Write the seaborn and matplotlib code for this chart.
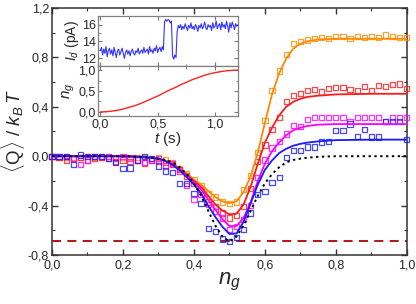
import numpy as np
import pandas as pd
import matplotlib
matplotlib.use("Agg")
import matplotlib.pyplot as plt
import seaborn as sns
from matplotlib.ticker import MultipleLocator, FuncFormatter

sns.set_style("ticks")
plt.rcParams['font.family'] = ['Liberation Sans', 'DejaVu Sans']
plt.rcParams['mathtext.fontset'] = 'custom'
plt.rcParams['mathtext.rm'] = 'Liberation Sans'
plt.rcParams['mathtext.it'] = 'Liberation Sans:italic'

# --- dữ liệu chính: <Q>/kT theo n_g ---
ng_pts = np.round(np.arange(0, 1.001, 0.02), 2)

q_orange = [0.00, -0.01, -0.01, -0.01, -0.01, 0.00, -0.01, -0.01, 0.00, -0.01,
            -0.01, -0.01, -0.01, -0.01, -0.02, -0.01, -0.03, -0.05, -0.10, -0.14,
            -0.19, -0.24, -0.30, -0.33, -0.37, -0.385, -0.37, -0.27, -0.155, 0.03,
            0.29, 0.53, 0.69, 0.82, 0.91, 0.93, 0.94, 0.95, 0.96, 0.95,
            0.97, 0.97, 0.95, 0.97, 0.96, 0.97, 0.96, 0.98, 0.97, 0.96, 0.96]
q_red = [0.00, -0.01, -0.035, -0.02, -0.01, -0.03, -0.02, -0.01, -0.02, -0.045,
         -0.03, -0.04, -0.03, -0.055, -0.03, -0.04, -0.05, -0.07, -0.11, -0.16,
         -0.22, -0.27, -0.37, -0.41, -0.46, -0.50, -0.48, -0.41, -0.26, -0.04,
         0.09, 0.215, 0.315, 0.445, 0.49, 0.51, 0.53, 0.54, 0.52, 0.547,
         0.553, 0.553, 0.54, 0.53, 0.566, 0.53, 0.574, 0.566, 0.58, 0.585, 0.547]
q_magenta = [0.00, 0.00, 0.00, -0.02, -0.07, -0.03, 0.00, 0.00, 0.00, -0.02,
             0.00, -0.02, -0.03, -0.05, -0.03, -0.02, -0.08, -0.06, -0.12, -0.24,
             -0.35, -0.31, -0.39, -0.45, -0.50, -0.59, -0.57, -0.515, -0.40, -0.175,
             -0.03, 0.066, 0.12, 0.18, 0.25, 0.24, 0.30, 0.31, 0.31, 0.31,
             0.31, 0.31, 0.28, 0.31, 0.31, 0.31, 0.31, 0.28, 0.31, 0.31, 0.31]
q_blue = [0.00, 0.00, 0.00, -0.065, 0.01, 0.00, 0.00, 0.00, -0.02, -0.05,
          -0.10, -0.095, -0.03, 0.00, -0.02, -0.08, -0.12, -0.13, -0.22, -0.22,
          -0.30, -0.38, -0.587, -0.61, -0.67, -0.69, -0.66, -0.596, -0.46, -0.31,
          -0.285, -0.21, -0.17, -0.01, 0.045, 0.045, 0.075, 0.075, 0.115, 0.12,
          0.21, 0.21, 0.26, 0.16, 0.215, 0.155, 0.155, 0.28, 0.28, 0.28, 0.134]

# đường lý thuyết
ng_fit = [0.0, 0.1, 0.2, 0.25, 0.3, 0.32, 0.34, 0.36, 0.38, 0.4, 0.42, 0.44, 0.46, 0.48,
          0.5, 0.52, 0.54, 0.56, 0.58, 0.6, 0.62, 0.64, 0.66, 0.68, 0.7, 0.72, 0.75,
          0.8, 0.9, 1.0]
fit_orange = [0, 0, 0, -0.005, -0.02, -0.035, -0.06, -0.10, -0.14, -0.19, -0.23, -0.28,
              -0.33, -0.365, -0.38, -0.365, -0.29, -0.16, 0.03, 0.27, 0.50, 0.67, 0.79,
              0.87, 0.91, 0.93, 0.945, 0.95, 0.95, 0.95]
fit_red = [0, 0, 0, -0.005, -0.02, -0.04, -0.065, -0.105, -0.15, -0.20, -0.25, -0.32,
           -0.39, -0.44, -0.47, -0.465, -0.39, -0.245, -0.06, 0.11, 0.23, 0.33, 0.40,
           0.44, 0.465, 0.48, 0.49, 0.50, 0.505, 0.505]
fit_magenta = [0, 0, 0, -0.005, -0.02, -0.04, -0.07, -0.11, -0.16, -0.21, -0.27, -0.35,
               -0.43, -0.51, -0.565, -0.565, -0.50, -0.37, -0.20, -0.06, 0.04, 0.11,
               0.17, 0.21, 0.23, 0.245, 0.255, 0.26, 0.26, 0.26]
fit_blue = [0, 0, 0, -0.005, -0.02, -0.04, -0.07, -0.115, -0.17, -0.23, -0.30, -0.40,
            -0.49, -0.57, -0.63, -0.625, -0.53, -0.38, -0.23, -0.11, -0.035, 0.025,
            0.06, 0.085, 0.10, 0.11, 0.12, 0.13, 0.134, 0.134]
fit_dotted = [0, 0, 0, -0.005, -0.02, -0.03, -0.05, -0.09, -0.145, -0.22, -0.32, -0.44,
              -0.56, -0.65, -0.69, -0.65, -0.56, -0.44, -0.32, -0.22, -0.145, -0.09,
              -0.05, -0.03, -0.02, -0.012, -0.005, 0, 0, 0]
entropy_limit = -0.69

# --- dữ liệu inset ---
t_trace = np.round(np.arange(0, 1.2001, 0.01), 2)
i_d = [12.9, 13.3, 12.4, 13.1, 12.6, 13.4, 12.2, 12.9, 13.2, 12.5,
       13.0, 12.3, 13.3, 12.7, 12.1, 12.9, 13.1, 12.4, 12.8, 13.2,
       12.6, 12.0, 12.7, 13.0, 12.5, 12.9, 12.3, 12.8, 13.1, 12.6,
       12.4, 12.9, 12.7, 13.2, 12.5, 12.8, 13.0, 12.6, 13.3, 12.7,
       12.9, 13.1, 12.5, 13.4, 12.8, 13.0, 12.6, 13.2, 12.9, 13.5,
       12.7, 13.1, 13.3, 12.8, 13.4, 13.0,
       16.3, 16.6, 16.4, 16.6, 16.5, 16.2, 16.4, 12.3, 11.9, 12.4, 12.1,
       15.2,
       15.9, 15.6, 16.0, 15.4, 15.8, 15.5, 16.1, 15.7, 15.3, 15.9,
       15.6, 16.2, 15.5, 15.8, 15.4, 16.0, 15.7, 15.2, 15.9, 15.6,
       16.1, 15.5, 15.8, 16.3, 15.6, 15.4, 16.0, 15.7, 15.9, 15.3,
       16.2, 15.6, 15.8, 16.4, 15.5, 15.9, 16.1, 15.4, 16.3, 15.7,
       16.0, 15.5, 16.4, 15.8, 15.1, 16.2, 15.6, 16.3, 15.9, 15.4,
       16.1, 15.8, 16.0]
t_ramp = np.round(np.arange(0, 1.2001, 0.05), 2)
ng_ramp = [0.0, 0.005, 0.02, 0.04, 0.07, 0.11, 0.15, 0.20, 0.26, 0.32, 0.38, 0.45,
           0.52, 0.58, 0.65, 0.71, 0.77, 0.82, 0.87, 0.91, 0.94, 0.965, 0.985, 0.995, 1.0]

C_OR, C_RED, C_MAG, C_BLUE = '#FF8A00', '#FF1A1A', '#FF00FF', '#1A1AFF'

comma = FuncFormatter(lambda v, p: f"{v:.1f}".replace('.', ','))

fig = plt.figure(figsize=(4.16, 3.04), dpi=100)
ax = fig.add_axes([0.125, 0.161, 0.853, 0.813])

pts = pd.DataFrame({'ng': ng_pts, 'orange': q_orange, 'red': q_red,
                    'magenta': q_magenta, 'blue': q_blue})
fits = pd.DataFrame({'ng': ng_fit, 'orange': fit_orange, 'red': fit_red,
                     'magenta': fit_magenta, 'blue': fit_blue})

for name, col in [('orange', C_OR), ('red', C_RED), ('magenta', C_MAG), ('blue', C_BLUE)]:
    sns.scatterplot(data=pts, x='ng', y=name, ax=ax, marker='s', s=14,
                    facecolor='none', edgecolor=col, linewidth=0.9, alpha=0.8,
                    clip_on=False, zorder=3)
for name, col in [('orange', C_OR), ('red', C_RED), ('magenta', C_MAG), ('blue', C_BLUE)]:
    sns.lineplot(data=fits, x='ng', y=name, ax=ax, color=col, lw=1.3, zorder=4)
sns.lineplot(x=ng_fit, y=fit_dotted, ax=ax, color='black', lw=1.4,
             linestyle=(0, (1.2, 1.8)), zorder=4)
ax.axhline(entropy_limit, color='#B00000', lw=1.3, ls=(0, (5, 3.5)), zorder=2)

ax.set_xlim(0, 1.0)
ax.set_ylim(-0.8, 1.2)
ax.xaxis.set_major_locator(MultipleLocator(0.2))
ax.xaxis.set_minor_locator(MultipleLocator(0.1))
ax.yaxis.set_major_locator(MultipleLocator(0.4))
ax.yaxis.set_minor_locator(MultipleLocator(0.2))
ax.xaxis.set_major_formatter(comma)
ax.yaxis.set_major_formatter(comma)
ax.tick_params(which='both', direction='in', top=True, right=True, labelsize=9,
               color='#333333')
ax.tick_params(axis='x', pad=3)
ax.tick_params(axis='y', pad=2)
ax.tick_params(which='major', length=4, width=1)
ax.tick_params(which='minor', length=2.5, width=0.8)
for s in ax.spines.values():
    s.set_color('#333333')
    s.set_linewidth(1.1)
ax.set_xlabel('$n_g$', fontsize=16, labelpad=0)
ax.set_ylabel(r'$\langle\mathrm{Q}\rangle$ / $k_B\,T$', fontsize=13.5)
ax.yaxis.set_label_coords(-0.07, 0.5)

# --- inset ---
ax_i = fig.add_axes([0.2356, 0.783, 0.3364, 0.164])
ax_n = fig.add_axes([0.2356, 0.618, 0.3364, 0.165], sharex=ax_i)

sns.lineplot(x=t_trace, y=i_d, ax=ax_i, color='#3333FF', lw=0.8)
sns.lineplot(x=t_ramp, y=ng_ramp, ax=ax_n, color='#FF2020', lw=1.0)

ax_i.set_ylim(11.1, 17.0)
ax_n.set_ylim(-0.1, 1.1)
ax_n.set_xlim(-0.02, 1.2)
ax_i.yaxis.set_major_locator(MultipleLocator(2))
ax_i.yaxis.set_minor_locator(MultipleLocator(1))
ax_n.yaxis.set_major_locator(MultipleLocator(0.5))
ax_n.yaxis.set_minor_locator(MultipleLocator(0.25))
ax_n.xaxis.set_major_locator(MultipleLocator(0.5))
ax_n.xaxis.set_minor_locator(MultipleLocator(0.25))
ax_n.xaxis.set_major_formatter(comma)
ax_n.yaxis.set_major_formatter(comma)
plt.setp(ax_i.get_xticklabels(), visible=False)
for a in (ax_i, ax_n):
    a.set_facecolor('white')
    a.tick_params(which='both', direction='in', top=True, right=True, labelsize=9,
                  color='#777777', pad=1.5)
    a.tick_params(which='major', length=3)
    a.tick_params(which='minor', length=1.8)
    for s in a.spines.values():
        s.set_color('#808080')
        s.set_linewidth(0.9)
ax_i.set_xlabel('')
ax_i.set_ylabel('$I_d$ (pA)', fontsize=10, labelpad=1)
ax_n.set_ylabel('$n_g$', fontsize=11, labelpad=1)
ax_n.set_xlabel('$t$ (s)', fontsize=11, labelpad=0)

fig.savefig('out.png', dpi=100)
